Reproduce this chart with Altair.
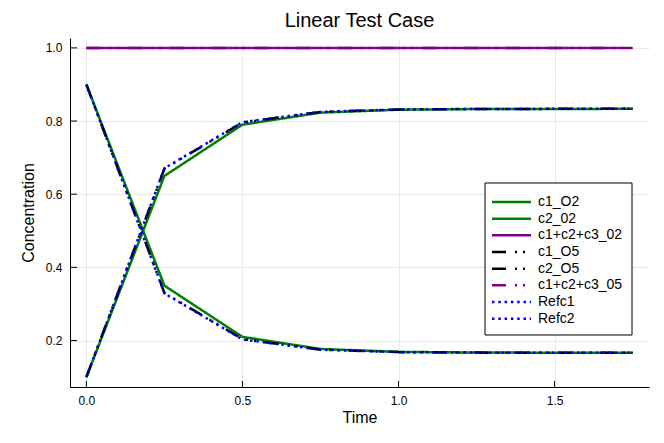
import altair as alt
import pandas as pd

time = [0.0, 0.25, 0.5, 0.75, 1.0, 1.25, 1.5, 1.75]

c1_O2 = [0.9, 0.350, 0.210, 0.177, 0.169, 0.1672, 0.1668, 0.1667]
c2_O2 = [0.1, 0.650, 0.790, 0.823, 0.831, 0.8328, 0.8332, 0.8333]
sum_O2 = [1.0, 1.0, 1.0, 1.0, 1.0, 1.0, 1.0, 1.0]
c1_O5 = [0.9, 0.330, 0.204, 0.175, 0.1684, 0.1670, 0.1667, 0.1667]
c2_O5 = [0.1, 0.670, 0.796, 0.825, 0.8316, 0.8330, 0.8333, 0.8333]
sum_O5 = [1.0, 1.0, 1.0, 1.0, 1.0, 1.0, 1.0, 1.0]
ref_c1 = [0.9, 0.329, 0.203, 0.175, 0.1684, 0.1670, 0.1667, 0.1667]
ref_c2 = [0.1, 0.671, 0.797, 0.825, 0.8316, 0.8330, 0.8333, 0.8333]

x_ticks = [0.0, 0.5, 1.0, 1.5]
y_ticks = [0.2, 0.4, 0.6, 0.8, 1.0]

series_names = ["c1_O2", "c2_02", "c1+c2+c3_02", "c1_O5", "c2_O5", "c1+c2+c3_05", "Refc1", "Refc2"]
series_values = [c1_O2, c2_O2, sum_O2, c1_O5, c2_O5, sum_O5, ref_c1, ref_c2]
series_colors = ["#008000", "#008000", "#800080", "#000000", "#000000", "#800080", "#0000ff", "#0000ff"]
solid = [1, 0]
dashdotdot = [14, 9, 2, 6, 2, 9]
dot = [2.5, 3.8]
series_dash = [solid, solid, solid, dashdotdot, dashdotdot, dashdotdot, dot, dot]

rows = []
for name, vals in zip(series_names, series_values):
    for t, v in zip(time, vals):
        rows.append({"Time": t, "Concentration": v, "series": name})
df = pd.DataFrame(rows)

legend_df = pd.DataFrame({"series": series_names, "idx": list(range(len(series_names)))})
xt_df = pd.DataFrame({"Time": x_ticks})
yt_df = pd.DataFrame({"Concentration": y_ticks})

FONT = "Liberation Sans"
W, H = 579, 349

x_scale = alt.Scale(domain=[-0.0525, 1.8025], nice=False, zero=False)
y_scale = alt.Scale(domain=[0.073, 1.027], nice=False, zero=False)
color_scale = alt.Scale(domain=series_names, range=series_colors)
dash_scale = alt.Scale(domain=series_names, range=series_dash)

lines = alt.Chart(df).mark_line(strokeWidth=2.5, clip=True).encode(
    x=alt.X("Time:Q", title="Time", scale=x_scale,
            axis=alt.Axis(values=x_ticks, format=".1f")),
    y=alt.Y("Concentration:Q", title="Concentration", scale=y_scale,
            axis=alt.Axis(values=y_ticks, format=".1f")),
    color=alt.Color("series:N", scale=color_scale, legend=None),
    strokeDash=alt.StrokeDash("series:N", scale=dash_scale, legend=None),
    detail="series:N",
)

# inward tick marks
xticks = alt.Chart(xt_df).mark_rule(color="black", strokeWidth=1).encode(
    x=alt.X("Time:Q", scale=x_scale), y=alt.value(H), y2=alt.value(H - 6)
)
yticks = alt.Chart(yt_df).mark_rule(color="black", strokeWidth=1).encode(
    y=alt.Y("Concentration:Q", scale=y_scale), x=alt.value(0), x2=alt.value(7)
)

# legend (pixel positions relative to the plot area)
LX0, LX1, LY0, LY1 = 415, 562, 145, 297
ROW0, ROWH = 164, 16.67

box = alt.Chart(legend_df).mark_rect(fill="white", stroke="black", strokeWidth=1).encode(
    x=alt.value(LX0), x2=alt.value(LX1), y=alt.value(LY0), y2=alt.value(LY1)
).transform_filter("datum.idx == 0")

legend_base = alt.Chart(legend_df).transform_calculate(py=f"{ROW0} + datum.idx * {ROWH}")

legend_lines = legend_base.mark_rule(strokeWidth=2.5).encode(
    x=alt.value(422), x2=alt.value(461),
    y=alt.Y("py:Q", scale=None),
    color=alt.Color("series:N", scale=color_scale, legend=None),
    strokeDash=alt.StrokeDash("series:N", scale=dash_scale, legend=None),
)

legend_text = legend_base.mark_text(align="left", baseline="middle", fontSize=14,
                                    font=FONT, color="black").encode(
    x=alt.value(468),
    y=alt.Y("py:Q", scale=None),
    text="series:N",
)

chart = alt.layer(lines, xticks, yticks, box, legend_lines, legend_text).properties(
    width=W, height=H,
    title=alt.TitleParams("Linear Test Case", fontSize=20, font=FONT,
                          fontWeight="normal", offset=7),
    autosize=alt.AutoSizeParams(type="none"),
    padding={"left": 62, "top": 30, "right": 7, "bottom": 48},
).configure_axis(
    labelFont=FONT, titleFont=FONT, labelFontSize=12, titleFontSize=16,
    titleFontWeight="normal", labelColor="black", titleColor="black",
    domainColor="black", domainWidth=1, ticks=False, labelPadding=8,
    gridColor="#e8e8e8", gridWidth=1,
).configure_axisX(titlePadding=3).configure_axisY(titlePadding=9).configure_view(
    stroke=None
)

chart.save("out.html", embed_options={"renderer": "svg", "actions": False})
